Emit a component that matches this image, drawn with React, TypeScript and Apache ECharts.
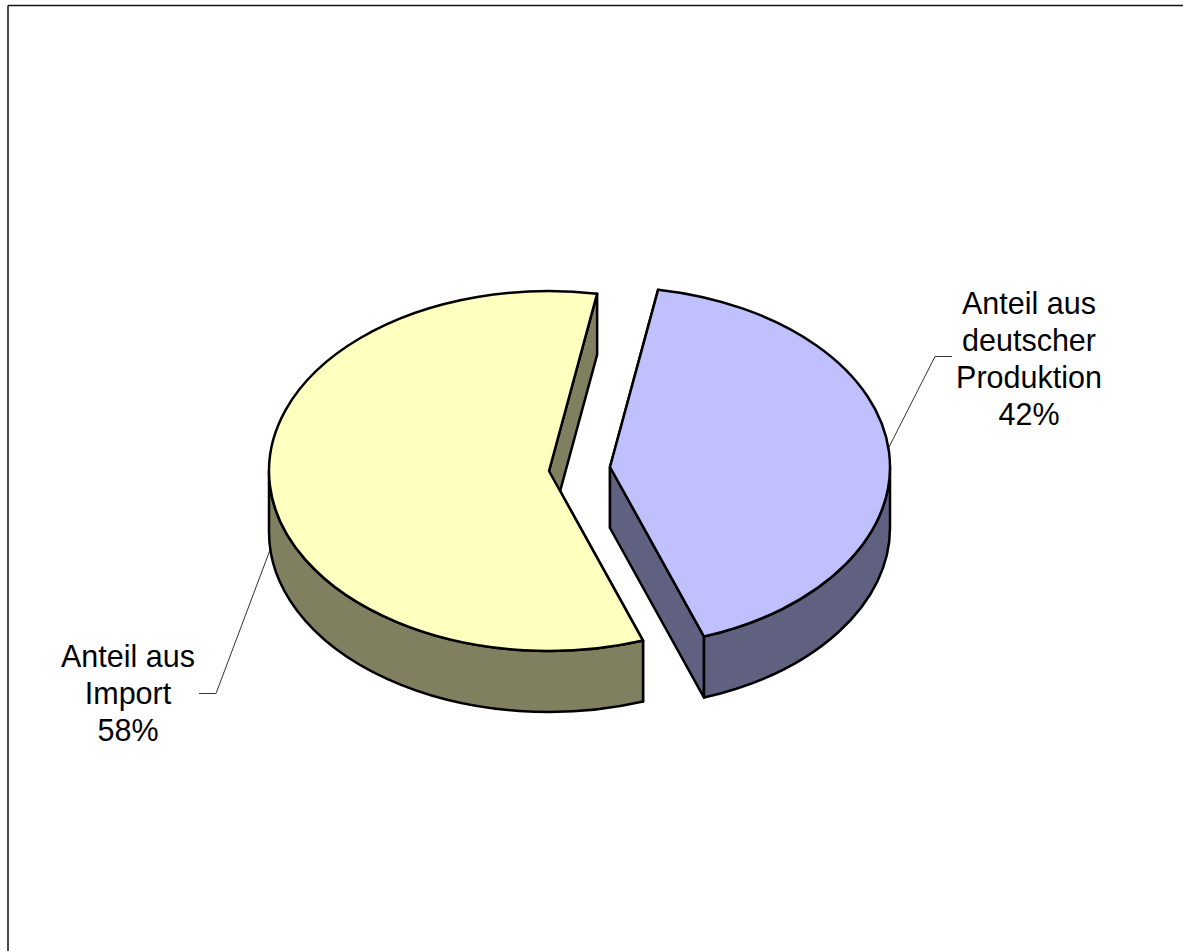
import React, { useEffect, useRef } from "react";
import * as echarts from "echarts";

const categories = ["Anteil aus\ndeutscher\nProduktion", "Anteil aus\nImport"];
const shares = [41.8, 58.2];
const topColors = ["#C0C0FF", "#FFFFC0"];
const wallColors = ["#606080", "#808060"];
const centers = [[610, 467], [549, 471]];

const START_DEG = 9.9;
const RX = 280;
const RY = 180;
const DEPTH = 61;
const TOTAL = shares.reduce((a, b) => a + b, 0);

const pt = (c: number[], deg: number, dy = 0) => {
  const t = (deg * Math.PI) / 180;
  return [c[0] + RX * Math.sin(t), c[1] - RY * Math.cos(t) + dy];
};
const arc = (to: number[], sweepDeg: number) =>
  `A${RX} ${RY} 0 ${Math.abs(sweepDeg) > 180 ? 1 : 0} ${sweepDeg > 0 ? 1 : 0} ${to[0]} ${to[1]}`;

const renderItem = (params: any, api: any) => {
  const i = params.dataIndex;
  const before = shares.slice(0, i).reduce((a, b) => a + b, 0);
  const a0 = START_DEG + (before / TOTAL) * 360;
  const a1 = a0 + (api.value(0) / TOTAL) * 360;
  const c = centers[i];
  const base = { stroke: "#000", lineWidth: 2.5, lineJoin: "round" };
  const wall = { ...base, fill: wallColors[i] };
  const children: any[] = [];

  [a0, a1].forEach((a) => {
    const p = pt(c, a);
    const q = pt(c, a, DEPTH);
    children.push({
      type: "polygon",
      shape: { points: [c, p, q, [c[0], c[1] + DEPTH]] },
      style: wall,
    });
  });

  const f0 = Math.max(a0, 90);
  const f1 = Math.min(a1, 270);
  if (f1 > f0) {
    const s = pt(c, f0);
    const e = pt(c, f1);
    const sb = pt(c, f0, DEPTH);
    const eb = pt(c, f1, DEPTH);
    children.push({
      type: "path",
      shape: {
        pathData: `M${s[0]} ${s[1]}${arc(e, f1 - f0)}L${eb[0]} ${eb[1]}${arc(sb, f0 - f1)}Z`,
      },
      style: wall,
    });
  }

  const p0 = pt(c, a0);
  const p1 = pt(c, a1);
  children.push({
    type: "path",
    shape: { pathData: `M${c[0]} ${c[1]}L${p0[0]} ${p0[1]}${arc(p1, a1 - a0)}Z` },
    style: { ...base, fill: topColors[i] },
  });
  return { type: "group", children };
};

const labelStyle = {
  fontFamily: "'Liberation Sans', Arial, sans-serif",
  fontSize: 30.5,
  lineHeight: 37,
  fill: "#000",
  align: "center",
  verticalAlign: "top",
};

export default function App() {
  const ref = useRef<HTMLDivElement>(null);
  useEffect(() => {
    const chart = echarts.init(ref.current!, undefined, { renderer: "svg" });
    chart.setOption({
      animation: false,
      backgroundColor: "#fff",
      series: [
        {
          type: "custom",
          coordinateSystem: "none",
          renderItem,
          data: shares.map((v, i) => ({ name: categories[i], value: [v] })),
          silent: true,
        },
      ],
      graphic: [
        { type: "line", silent: true, shape: { x1: 8, y1: 5.5, x2: 1183, y2: 5.5 }, style: { stroke: "#111", lineWidth: 1.5 } },
        { type: "line", silent: true, shape: { x1: 8, y1: 5.5, x2: 8, y2: 951 }, style: { stroke: "#111", lineWidth: 1.5 } },
        { type: "polyline", silent: true, shape: { points: [[888, 449], [935, 356.5], [952, 356.5]] }, style: { stroke: "#333", lineWidth: 1, fill: "none" } },
        { type: "polyline", silent: true, shape: { points: [[270, 550], [216, 693.5], [199, 693.5]] }, style: { stroke: "#333", lineWidth: 1, fill: "none" } },
        { type: "text", silent: true, x: 1029, y: 284, style: { ...labelStyle, text: `${categories[0]}\n${Math.round(shares[0])}%` } },
        { type: "text", silent: true, x: 128, y: 637.5, style: { ...labelStyle, text: `${categories[1]}\n${Math.round(shares[1])}%` } },
      ],
    });
    return () => chart.dispose();
  }, []);
  return <div ref={ref} style={{ position: "fixed", left: 0, top: 0, width: 1183, height: 951 }} />;
}
